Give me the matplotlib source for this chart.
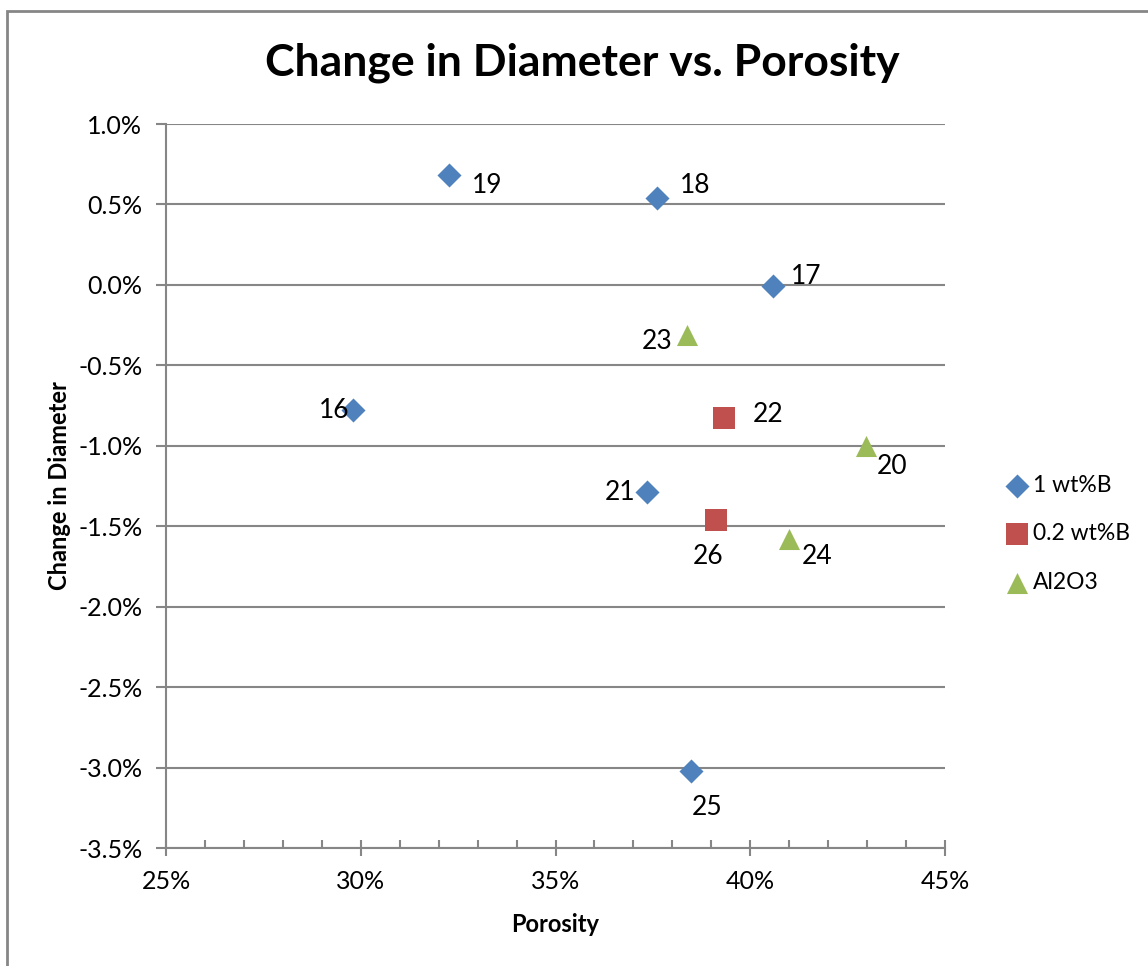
import matplotlib.pyplot as plt
import matplotlib.patches as patches
from matplotlib.ticker import MultipleLocator, FuncFormatter

plt.rcParams['font.family'] = ['Lato', 'DejaVu Sans']

# data (porosity %, change in diameter %)
b1_x = [32.27, 37.61, 40.58, 29.80, 37.35, 38.48]
b1_y = [0.68, 0.54, -0.01, -0.78, -1.29, -3.02]
b1_lab = ['19', '18', '17', '16', '21', '25']

b02_x = [39.33, 39.12]
b02_y = [-0.83, -1.46]
b02_lab = ['22', '26']

al_x = [38.38, 42.97, 40.99]
al_y = [-0.31, -1.00, -1.58]
al_lab = ['23', '20', '24']

series_names = ['1 wt%B', '0.2 wt%B', 'Al2O3']

# label offsets in pixels (dx, dy)
offsets = {
    '19': (38, -10), '18': (38, 13), '17': (33, 10), '16': (-19, 0),
    '21': (-27, 0), '25': (16, -37), '22': (44, 4), '26': (-8, -37),
    '23': (-30, -7), '20': (26, -21), '24': (28, -17),
}

fig = plt.figure(figsize=(11.48, 9.66), dpi=100)
ax = fig.add_axes([166 / 1148, 1 - 848 / 966, (945 - 166) / 1148, (848 - 124) / 966])

grey = '#868686'
ax.scatter(b1_x, b1_y, marker='D', s=150, color='#4F81BD', zorder=3, label=series_names[0], linewidths=0)
ax.scatter(b02_x, b02_y, marker='s', s=230, color='#C0504D', zorder=3, label=series_names[1], linewidths=0)
ax.scatter(al_x, al_y, marker='^', s=230, color='#9BBB59', zorder=3, label=series_names[2], linewidths=0)

for xs, ys, labs in [(b1_x, b1_y, b1_lab), (b02_x, b02_y, b02_lab), (al_x, al_y, al_lab)]:
    for x, y, t in zip(xs, ys, labs):
        ax.annotate(t, (x, y), xytext=offsets[t], textcoords='offset pixels',
                    ha='center', va='center', fontsize=19)

ax.set_xlim(25, 45)
ax.set_ylim(-3.5, 1.0)
ax.xaxis.set_major_locator(MultipleLocator(5))
ax.xaxis.set_minor_locator(MultipleLocator(1))
ax.yaxis.set_major_locator(MultipleLocator(0.5))
ax.xaxis.set_major_formatter(FuncFormatter(lambda v, p: f'{v:.0f}%'))
ax.yaxis.set_major_formatter(FuncFormatter(lambda v, p: f'{v:.1f}%'))
ax.grid(axis='y', color=grey, linewidth=1.5)
ax.set_axisbelow(True)

for s in ['top', 'right']:
    ax.spines[s].set_visible(False)
for s in ['left', 'bottom']:
    ax.spines[s].set_color(grey)
    ax.spines[s].set_linewidth(1.5)

ax.tick_params(axis='x', which='major', direction='inout', length=12, width=1.5, color=grey,
               labelsize=18, pad=10)
ax.tick_params(axis='x', which='minor', direction='in', length=6, width=1.5, color=grey)
ax.tick_params(axis='y', which='major', direction='out', length=7, width=1.5, color=grey,
               labelsize=18, pad=10)

ax.set_xlabel('Porosity', fontsize=17, fontweight='bold', labelpad=14)
ax.set_ylabel('Change in Diameter', fontsize=17, fontweight='bold', labelpad=5)
fig.text(582 / 1148, 1 - 63 / 966, 'Change in Diameter vs. Porosity', ha='center', va='center',
         fontsize=32, fontweight='bold')

fig.legend(loc='center left', bbox_to_anchor=(992 / 1148, 1 - 534 / 966), frameon=False,
           fontsize=16.5, handletextpad=0.0, labelspacing=1.2, handlelength=1.4, borderaxespad=0)

fig.patches.append(patches.Rectangle((7 / 1148, -0.05), 1.1, 1 - 11 / 966 + 0.05,
                                     transform=fig.transFigure, fill=False, edgecolor=grey,
                                     linewidth=2))

fig.savefig('out.png', dpi=100)
